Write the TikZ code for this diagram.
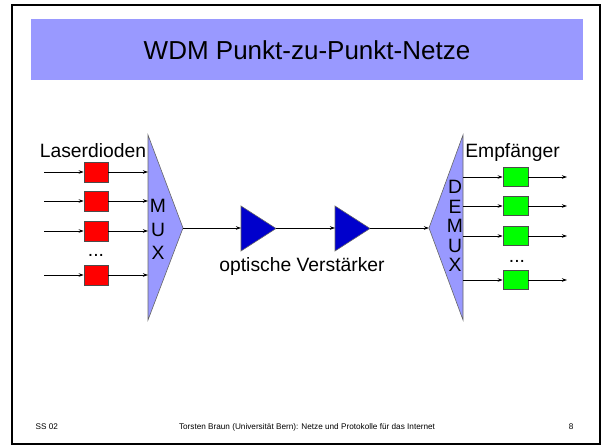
\documentclass[tikz,border=0pt]{standalone}
\usepackage{fontspec}
\setmainfont{Liberation Sans}
\usetikzlibrary{arrows.meta}
\definecolor{lavender}{HTML}{9999FF}
\definecolor{ampblue}{HTML}{0000CC}
\definecolor{boxred}{HTML}{FF0000}
\definecolor{boxgreen}{HTML}{00FF00}
\begin{document}
\begin{tikzpicture}[x=1pt,y=-1pt,
  conn/.style={draw=black, line width=0.8pt, -{Stealth[length=5pt,width=3.5pt]}},
  lbl/.style={font=\fontsize{19.3}{20}\selectfont, inner sep=0pt},
  footer/.style={font=\fontsize{8.2}{9}\selectfont, inner sep=0pt},
  redbox/.style={draw=black!70, line width=0.6pt, fill=boxred, minimum width=24pt, minimum height=20pt, inner sep=0pt},
  greenbox/.style={draw=black!70, line width=0.6pt, fill=boxgreen, minimum width=25pt, minimum height=19.5pt, inner sep=0pt},
  muxshape/.style={draw=black!60, line width=0.6pt, fill=lavender},
  ampshape/.style={draw=black!60, line width=0.6pt, fill=ampblue}
]
\useasboundingbox (0,0) rectangle (605,446);
% frame and title
\draw[line width=2pt] (12,5) rectangle (599.5,443.5);
\fill[lavender] (31,19) rectangle (583,80);
\node[font=\fontsize{26}{28}\selectfont, inner sep=0pt] (title) at (307,50) {WDM Punkt-zu-Punkt-Netze};

% MUX
\draw[muxshape] (148,135) -- (183,228) -- (148,320) -- cycle;
\coordinate (muxout) at (183,228);
\node[lbl] (mM) at (158,206) {M};
\node[lbl] (mU) at (158,229.5) {U};
\node[lbl] (mX) at (158,253) {X};

% Laser diodes
\node[lbl, anchor=base] (laser) at (93,158) {Laserdioden};
\foreach \i/\y in {1/172, 2/201, 3/231, 4/275} {
  \node[redbox] (r\i) at (96,\y) {};
  \coordinate (lin\i) at (44,\y);
  \coordinate (mux\i) at (148,\y);
  \draw[conn] (lin\i) -- (r\i);
  \draw[conn] (r\i) -- (mux\i);
}
\node[lbl, anchor=base] (ldots) at (96,257) {...};

% amplifiers
\draw[ampshape] (241,206) -- (276,228.5) -- (241,251) -- cycle;
\draw[ampshape] (335,206) -- (370,228.5) -- (335,251) -- cycle;
\coordinate (a1in) at (241,228);
\coordinate (a1out) at (276,228);
\coordinate (a2in) at (335,228);
\coordinate (a2out) at (370,228);
\coordinate (demuxin) at (429,228);
\draw[conn] (muxout) -- (a1in);
\draw[conn] (a1out) -- (a2in);
\draw[conn] (a2out) -- (demuxin);
\node[lbl, anchor=base] (amplbl) at (302,272) {optische Verstärker};

% DEMUX
\draw[muxshape] (463,135) -- (429,228) -- (463,320) -- cycle;
\foreach \l/\y in {D/187, E/206.5, M/226, U/245.5, X/265} {
  \node[lbl] (d\l) at (455,\y) {\l};
}

% receivers
\node[lbl, anchor=base] (empf) at (512.5,158) {Empfänger};
\foreach \i/\y in {1/177, 2/206, 3/236, 4/280} {
  \node[greenbox] (g\i) at (515.5,\y) {};
  \coordinate (dem\i) at (463,\y);
  \coordinate (gout\i) at (567,\y);
  \draw[conn] (dem\i) -- (g\i);
  \draw[conn] (g\i) -- (gout\i);
}
\node[lbl, anchor=base] (rdots) at (517,263) {...};

% footer
\node[footer, anchor=base west] (fl) at (35.5,429.5) {SS 02};
\node[footer, anchor=base] (fm) at (307,429.5) {Torsten Braun (Universität Bern): Netze und Protokolle für das Internet};
\node[footer, anchor=base west] (fr) at (568.7,429.5) {8};
\end{tikzpicture}
\end{document}
